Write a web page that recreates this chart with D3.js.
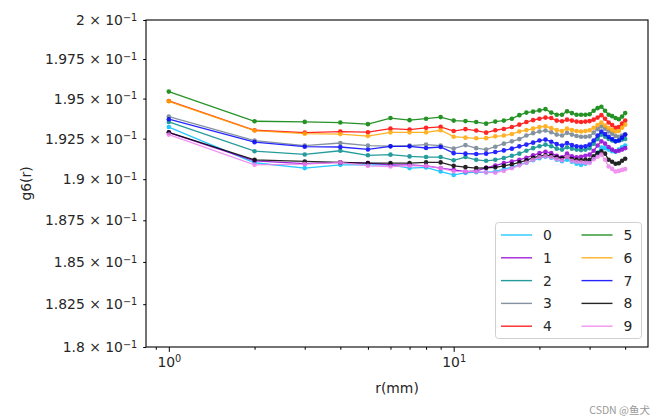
<!DOCTYPE html>
<html><head><meta charset="utf-8">
<script src="https://cdn.jsdelivr.net/npm/d3@7"></script>
<style>
body{margin:0;background:#fff;}
svg{font-family:"DejaVu Sans",sans-serif;}
</style></head>
<body><svg id="c" width="665" height="418"></svg>
<script>
const rValues = d3.range(1, 41);
const seriesNames = ["0","1","2","3","4","5","6","7","8","9"];
const seriesColors = ["#00bfff","#9400d3","#008b8b","#708090","#ff0000","#008000","#ffa500","#0000ff","#000000","#ee82ee"];
const s0 = [0.19322,0.19101,0.19068,0.19088,0.19088,0.19088,0.19068,0.19072,0.19047,0.19026,0.19039,0.19043,0.19042,0.19047,0.19062,0.19074,0.19088,0.19101,0.19116,0.19129,0.19138,0.19132,0.19119,0.19110,0.19119,0.19107,0.19095,0.19088,0.19095,0.19107,0.19132,0.19163,0.19194,0.19191,0.19182,0.19172,0.19169,0.19182,0.19197,0.19207];
const s1 = [0.19287,0.19113,0.19095,0.19103,0.19099,0.19088,0.19088,0.19082,0.19068,0.19057,0.19047,0.19051,0.19070,0.19084,0.19099,0.19109,0.19119,0.19132,0.19147,0.19160,0.19169,0.19160,0.19144,0.19135,0.19157,0.19141,0.19135,0.19138,0.19144,0.19151,0.19175,0.19207,0.19233,0.19219,0.19198,0.19182,0.19172,0.19175,0.19182,0.19191];
const s2 = [0.19354,0.19172,0.19152,0.19175,0.19147,0.19151,0.19140,0.19136,0.19136,0.19116,0.19136,0.19119,0.19113,0.19119,0.19130,0.19144,0.19157,0.19175,0.19191,0.19203,0.19213,0.19203,0.19188,0.19182,0.19197,0.19188,0.19182,0.19179,0.19182,0.19191,0.19219,0.19247,0.19275,0.19262,0.19248,0.19238,0.19234,0.19238,0.19244,0.19248];
const s3 = [0.19387,0.19238,0.19207,0.19223,0.19207,0.19203,0.19207,0.19213,0.19207,0.19188,0.19210,0.19191,0.19182,0.19200,0.19219,0.19233,0.19247,0.19269,0.19284,0.19294,0.19300,0.19290,0.19275,0.19269,0.19286,0.19275,0.19266,0.19262,0.19262,0.19264,0.19287,0.19309,0.19325,0.19312,0.19295,0.19281,0.19266,0.19262,0.19269,0.19275];
const s4 = [0.19485,0.19302,0.19287,0.19294,0.19290,0.19312,0.19306,0.19317,0.19323,0.19297,0.19309,0.19300,0.19287,0.19302,0.19310,0.19322,0.19337,0.19353,0.19365,0.19374,0.19381,0.19378,0.19362,0.19358,0.19368,0.19362,0.19356,0.19353,0.19356,0.19359,0.19368,0.19381,0.19396,0.19374,0.19350,0.19334,0.19318,0.19322,0.19343,0.19362];
const s5 = [0.19544,0.19358,0.19354,0.19350,0.19340,0.19378,0.19365,0.19374,0.19384,0.19362,0.19359,0.19353,0.19343,0.19356,0.19362,0.19374,0.19396,0.19412,0.19418,0.19426,0.19434,0.19412,0.19399,0.19399,0.19420,0.19409,0.19399,0.19399,0.19399,0.19402,0.19424,0.19440,0.19449,0.19424,0.19399,0.19390,0.19378,0.19371,0.19387,0.19409];
const s6 = [0.19483,0.19300,0.19281,0.19278,0.19266,0.19289,0.19289,0.19289,0.19302,0.19262,0.19256,0.19252,0.19253,0.19264,0.19269,0.19279,0.19294,0.19303,0.19312,0.19322,0.19327,0.19315,0.19303,0.19297,0.19312,0.19303,0.19297,0.19294,0.19297,0.19302,0.19318,0.19334,0.19350,0.19331,0.19315,0.19303,0.19294,0.19297,0.19318,0.19337];
const s7 = [0.19371,0.19228,0.19200,0.19198,0.19183,0.19202,0.19202,0.19192,0.19198,0.19160,0.19157,0.19155,0.19157,0.19167,0.19177,0.19188,0.19202,0.19213,0.19225,0.19238,0.19244,0.19231,0.19216,0.19207,0.19223,0.19210,0.19203,0.19200,0.19203,0.19213,0.19238,0.19269,0.19294,0.19278,0.19261,0.19247,0.19233,0.19238,0.19256,0.19275];
const s8 = [0.19289,0.19119,0.19109,0.19103,0.19099,0.19099,0.19099,0.19103,0.19103,0.19082,0.19074,0.19068,0.19070,0.19073,0.19082,0.19091,0.19103,0.19116,0.19132,0.19141,0.19147,0.19144,0.19135,0.19129,0.19138,0.19124,0.19119,0.19116,0.19119,0.19119,0.19141,0.19160,0.19171,0.19157,0.19119,0.19107,0.19095,0.19098,0.19113,0.19126];
const s9 = [0.19275,0.19088,0.19093,0.19103,0.19082,0.19078,0.19082,0.19082,0.19068,0.19048,0.19047,0.19047,0.19042,0.19040,0.19051,0.19067,0.19085,0.19101,0.19119,0.19135,0.19141,0.19135,0.19123,0.19116,0.19138,0.19113,0.19107,0.19104,0.19101,0.19099,0.19123,0.19138,0.19151,0.19119,0.19078,0.19063,0.19047,0.19051,0.19057,0.19062];
const seriesValues = [s0,s1,s2,s3,s4,s5,s6,s7,s8,s9];
const yTicks = [0.18,0.1825,0.185,0.1875,0.19,0.1925,0.195,0.1975,0.2];
const xMajorTicks = [1,10];
const xMinorTicks = [0.9,2,3,4,5,6,7,8,9,20,30,40];

const svg = d3.select("#c");
const L=146,R=648,T=20,B=347;
const lx0 = Math.log10(1), lx1 = Math.log10(40), m=(lx1-lx0)*0.05;
const x = d3.scaleLog().domain([Math.pow(10,lx0-m), Math.pow(10,lx1+m)]).range([L,R]);
const y = d3.scaleLog().domain([0.18,0.2]).range([B,T]);
const FS = 13.9;

svg.append("clipPath").attr("id","clip").append("rect").attr("x",L).attr("y",T).attr("width",R-L).attr("height",B-T);

const plot = svg.append("g").attr("clip-path","url(#clip)");
const line = d3.line().x((d,i)=>x(rValues[i])).y(d=>y(d));
seriesValues.forEach((vals,k)=>{
  const g = plot.append("g").attr("opacity",0.85);
  g.append("path").attr("d",line(vals)).attr("fill","none").attr("stroke",seriesColors[k]).attr("stroke-width",1.3);
  g.selectAll("circle").data(vals).join("circle")
    .attr("cx",(d,i)=>x(rValues[i])).attr("cy",d=>y(d)).attr("r",2.3).attr("fill",seriesColors[k]);
});

const sup = (t, base, ex) => {
  t.text(null);
  t.append("tspan").text(base);
  t.append("tspan").attr("dy","-0.45em").attr("font-size","70%").text(ex);
};
const yAxis = svg.append("g").attr("transform",`translate(${L},0)`)
  .call(d3.axisLeft(y).tickValues(yTicks).tickSize(2.8).tickPadding(6).tickFormat(d=>d));
yAxis.select(".domain").remove();
yAxis.selectAll(".tick text").attr("font-size",FS).attr("font-family","DejaVu Sans").attr("fill","#262626")
  .each(function(d){ const mant = +(d*10).toFixed(4); sup(d3.select(this), mant + " \u00d7 10", "\u22121"); });

const xAxis = svg.append("g").attr("transform",`translate(0,${B})`)
  .call(d3.axisBottom(x).tickValues(xMajorTicks).tickSize(4.9).tickPadding(5).tickFormat(d=>d));
xAxis.select(".domain").remove();
xAxis.selectAll(".tick text").attr("font-size",FS).attr("font-family","DejaVu Sans").attr("fill","#262626")
  .each(function(d){ sup(d3.select(this), "10", String(Math.round(Math.log10(d)))); });
const xMinor = svg.append("g").attr("transform",`translate(0,${B})`)
  .call(d3.axisBottom(x).tickValues(xMinorTicks).tickSize(2.8).tickFormat(""));
xMinor.select(".domain").remove();
svg.selectAll(".tick line").attr("stroke","#000").attr("stroke-width",1);

svg.append("rect").attr("x",L).attr("y",T).attr("width",R-L).attr("height",B-T)
  .attr("fill","none").attr("stroke","#000").attr("stroke-width",1.1);

svg.append("text").attr("x",(L+R)/2).attr("y",393).attr("text-anchor","middle")
  .attr("font-size",FS).attr("fill","#262626").text("r(mm)");
svg.append("text").attr("transform",`translate(31,${(T+B)/2}) rotate(-90)`).attr("text-anchor","middle")
  .attr("font-size",FS).attr("fill","#262626").text("g6(r)");

const lg = svg.append("g");
lg.append("rect").attr("x",495.5).attr("y",222.5).attr("width",146).attr("height",116).attr("rx",3)
  .attr("fill","#fff").attr("fill-opacity",0.8).attr("stroke","#d0d0d0").attr("stroke-width",1);
seriesNames.forEach((n,k)=>{
  const col = Math.floor(k/5), row = k%5;
  const x0 = 501 + col*80.5, yy = 235 + row*22.8;
  lg.append("line").attr("x1",x0).attr("x2",x0+31).attr("y1",yy).attr("y2",yy)
    .attr("stroke",seriesColors[k]).attr("stroke-width",1.4).attr("opacity",0.85);
  lg.append("text").attr("x",x0+42).attr("y",yy+5).attr("font-size",FS).attr("fill","#262626").text(n);
});

svg.append("text").attr("x",650).attr("y",414).attr("text-anchor","end")
  .attr("font-size",10.5).attr("font-family","'Noto Sans CJK SC', sans-serif").attr("fill","#999").text("CSDN @鱼犬");
</script></body></html>
